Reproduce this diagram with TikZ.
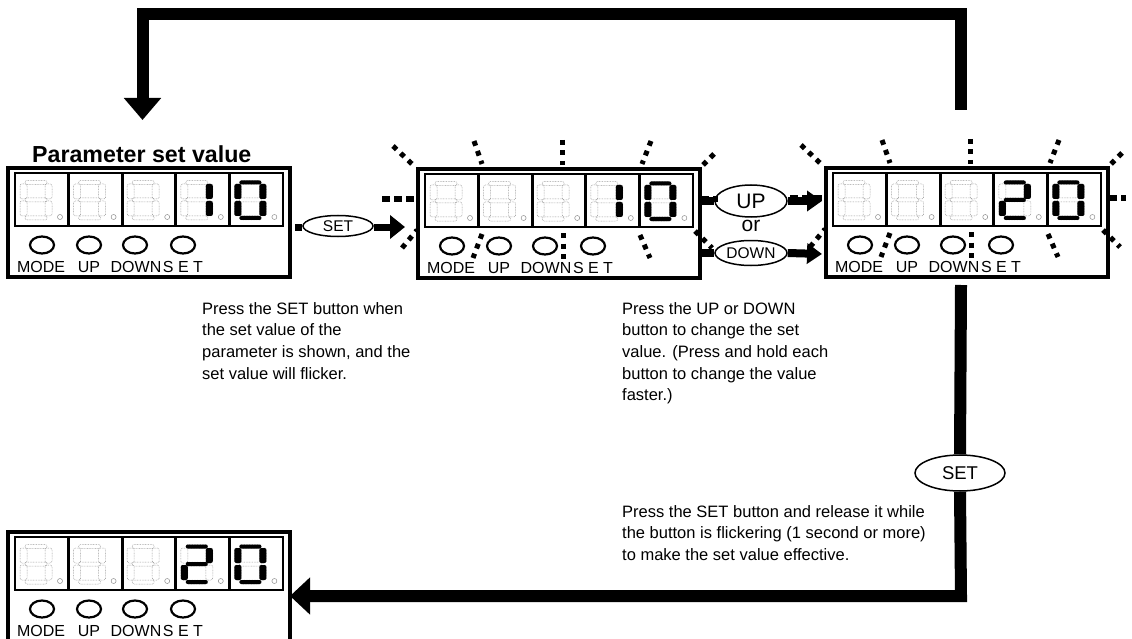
\documentclass[tikz,border=0pt]{standalone}
\usepackage{fontspec}
\setmainfont{Liberation Sans}
\usetikzlibrary{arrows.meta,shapes.geometric}

\def\segall{10/7.5/32/11.5, 5/11/12/26, 30/11/37/26, 10/25/32/29, 5/28/12/43, 30/28/37/43, 10/43/32/47}
\def\dgone{30/11/37/26, 30/28/37/43}
\def\dgzero{10/7.5/32/11.5, 5/11/12/26, 30/11/37/26, 5/28/12/43, 30/28/37/43, 10/43/32/47}
\def\dgtwo{10/7.5/32/11.5, 30/11/37/26, 10/25/32/29, 5/28/12/43, 10/43/32/47}

\tikzset{
  segoff/.style={draw=black!40, line width=0.5pt, dash pattern=on 0.8pt off 0.8pt, rounded corners=2pt},
  segon/.style={fill=black, rounded corners=2pt},
  frame/.style={line width=2.8pt},
  lcdbox/.style={draw, line width=3.2pt, minimum width=282pt, minimum height=109pt, inner sep=0pt, outer sep=0pt},
  btn/.style={line width=2.2pt},
  btnlbl/.style={font=\fontsize{16}{16}\selectfont, anchor=base, inner sep=0pt},
  ray/.style={line width=5pt, dash pattern=on 5pt off 5.5pt},
  hray/.style={line width=5.5pt, dash pattern=on 8pt off 4pt},
  bigline/.style={line width=12pt, line join=miter, line cap=butt},
  midline/.style={line width=8pt, line cap=butt},
  smline/.style={line width=7pt, line cap=butt},
  keybtn/.style={ellipse, draw, line width=1.5pt, inner sep=0pt, fill=white},
  body/.style={font=\fontsize{16.5}{21.7}\selectfont, align=left, anchor=north west, inner sep=0pt}
}

\newcommand\digitcell[2]{\begin{scope}[shift={(#1,#2)}]
  \foreach \xa/\ya/\xb/\yb in \segall {\draw[segoff] (\xa,\ya) rectangle (\xb,\yb);}
  \draw[draw=black!45, line width=0.5pt] (45,44) circle (2.5pt);
\end{scope}}

\newcommand\digiton[3]{\begin{scope}[shift={(#1,#2)}]
  \foreach \xa/\ya/\xb/\yb in #3 {\fill[segon] (\xa,\ya) rectangle (\xb,\yb);}
\end{scope}}

\newcommand\lcd[5]{%
  \node[lcdbox] (#1) at ({#2+141},{#3+54.5}) {};
  \begin{scope}[shift={(#2,#3)}]
    \foreach \k in {0,...,4} {\digitcell{7+53.6*\k}{5}}
    \digiton{167.8}{5}{#4}
    \digiton{221.4}{5}{#5}
    \draw[frame] (7,5) rectangle (275,58);
    \foreach \k in {1,...,4} {\draw[frame] ({7+53.6*\k},5) -- ({7+53.6*\k},58);}
    \foreach \bx in {34,81,127,175} {\draw[btn] (\bx,77) ellipse (12pt and 8.5pt);}
    \node[btnlbl] (#1-l1) at (33,104) {MODE};
    \node[btnlbl] (#1-l2) at (81,104) {UP};
    \node[btnlbl] (#1-l3) at (128,104) {DOWN};
    \node[btnlbl] (#1-l4) at (175,104) {S E T};
  \end{scope}}

\newcommand\flicker[2]{\begin{scope}[shift={(#1,#2)}]
  \foreach \ax/\ay/\bx/\by in {-25/-23/-6/-5, 56/-28/64/-5, 144/-29/144/-4, 233/-28/224/-5, 296/-15/285/-4, -16/79/-1/61, 277/62/294/79, 64/65/55/89, 145/64/145/90, 222/66/232/89}
    {\draw[ray] (\ax,\ay) -- (\bx,\by);}
  \draw[hray] (-36,30) -- (-4,30);
  \draw[hray] (283,30) -- (300,30);
\end{scope}}

\begin{document}
\begin{tikzpicture}[x=1pt,y=-1pt]
\useasboundingbox (0,0) rectangle (1132,639);

% displays
\lcd{d1}{8}{168}{\dgone}{\dgzero}
\lcd{d2}{418}{169}{\dgone}{\dgzero}
\lcd{d3}{826}{168}{\dgtwo}{\dgzero}
\lcd{d4}{8}{532}{\dgtwo}{\dgzero}

\node[anchor=base west, inner sep=0pt, font=\fontsize{23.2}{27}\selectfont\bfseries] (title) at (32,163) {Parameter set value};

% top loop
\coordinate (t0) at (961,110);
\coordinate (t1) at (961,14);
\coordinate (t2) at (142.5,14);
\coordinate (t3) at (142.5,120);
\draw[bigline, -{Triangle[width=36pt,length=22pt]}] (t0) -- (t1) -- (t2) -- (t3);

% SET arrow 1
\node[keybtn, minimum width=70pt, minimum height=21pt, font=\fontsize{15.5}{15.5}\selectfont] (set1) at (338,226) {SET};
\coordinate (s1a) at (295,227);
\coordinate (s1b) at (405,227);
\draw[smline] (s1a) -- (s1a -| set1.west);
\draw[smline, -{Triangle[width=23pt,length=15pt]}] (s1a -| set1.east) -- (s1b);

% UP / DOWN arrows
\node[keybtn, minimum width=72pt, minimum height=32pt, font=\fontsize{21}{21}\selectfont] (up) at (751,201) {UP};
\node[inner sep=0pt, font=\fontsize{21}{21}\selectfont] (or) at (751,226) {or};
\node[keybtn, minimum width=72pt, minimum height=25pt, font=\fontsize{15.5}{15.5}\selectfont] (down) at (751,253) {DOWN};
\coordinate (upt) at (822,201);
\coordinate (dnt) at (822,254);
\draw[midline] (d2.east |- up) -- (up.west);
\draw[midline, -{Triangle[width=20pt,length=15pt]}] (up.east) -- (upt);
\draw[midline] (d2.east |- down) -- (down.west);
\draw[midline, -{Triangle[width=20pt,length=15pt]}] (down.east) -- (dnt);

% flicker rays
\flicker{418}{169}
\flicker{826}{168}

% SET arrow 2 (return)
\node[keybtn, minimum width=90pt, minimum height=36pt, font=\fontsize{18.5}{18.5}\selectfont] (set2) at (960,473) {SET};
\coordinate (v1) at (961,285);
\coordinate (v2) at (961,596);
\draw[bigline] (v1) -- (set2.north);
\draw[bigline, -{Triangle[width=36pt,length=20pt]}] (set2.south) -- (v2) -- (d4.east |- v2);

% texts
\node[body] (txt1) at (202,302) {Press the SET button when\\the set value of the\\parameter is shown, and the\\set value will flicker.};
\node[body] (txt2) at (622,302) {Press the UP or DOWN\\button to change the set\\value. (Press and hold each\\button to change the value\\faster.)};
\node[body] (txt3) at (622,505) {Press the SET button and release it while\\the button is flickering (1 second or more)\\to make the set value effective.};
\end{tikzpicture}
\end{document}
